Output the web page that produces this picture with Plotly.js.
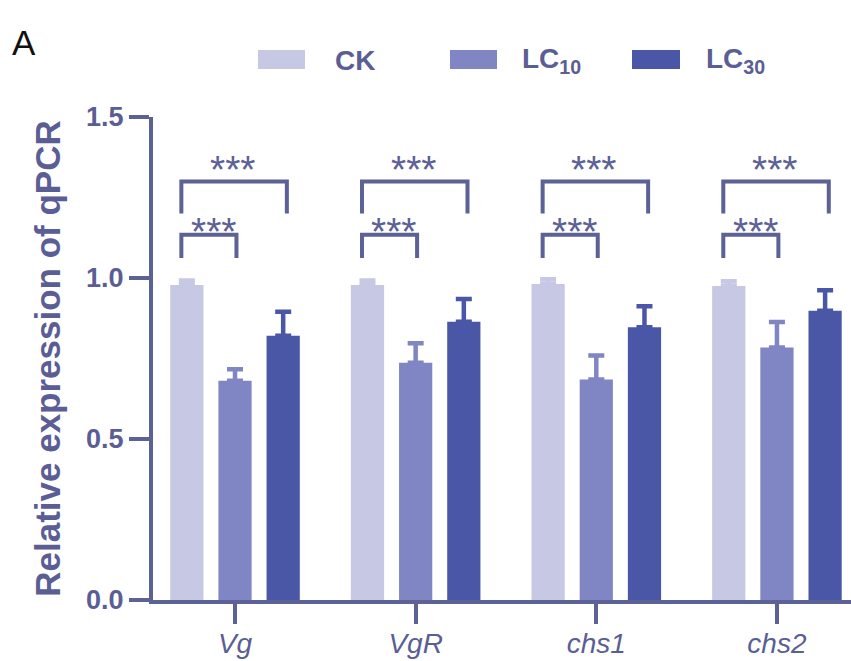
<!DOCTYPE html>
<html>
<head>
<meta charset="utf-8">
<script src="https://cdn.plot.ly/plotly-3.0.1.min.js"></script>
<style>html,body{margin:0;padding:0;background:#fff;}#chart{width:851px;height:661px;}</style>
</head>
<body>
<div id="chart"></div>
<script>
// ---- data ----
const genes = ["Vg", "VgR", "chs1", "chs2"];
const seriesNames = ["CK", "LC10", "LC30"];
const ckValues = [0.978, 0.978, 0.981, 0.975];
const ckErrors = [0.014, 0.014, 0.015, 0.015];
const lc10Values = [0.681, 0.737, 0.685, 0.784];
const lc10Errors = [0.036, 0.060, 0.074, 0.079];
const lc30Values = [0.821, 0.864, 0.847, 0.898];
const lc30Errors = [0.074, 0.071, 0.065, 0.064];
const yTickVals = [0, 0.5, 1.0, 1.5];
const yTickText = ["0.0", "0.5", "1.0", "1.5"];
const sigLabel = "***";

// ---- styles ----
const colors = ["#c7c8e3", "#7f86c3", "#4957a6"];
const axisColor = "#5c6196";
const textColor = "#5a5e94";
const fontFam = "Liberation Sans, Arial, sans-serif";
const W = 851, H = 661, ML = 153, MR = 0, MT = 117, MB = 61;

const values = [ckValues, lc10Values, lc30Values];
const errors = [ckErrors, lc10Errors, lc30Errors];

const traces = seriesNames.map((name, i) => ({
  type: "bar",
  name: name,
  x: genes,
  y: values[i],
  marker: { color: colors[i], line: { width: 0 } },
  error_y: {
    type: "data", symmetric: false,
    array: errors[i], arrayminus: genes.map(() => 0),
    color: colors[i], thickness: 4.5, width: 8
  },
  showlegend: false
}));

// significance brackets (per gene): outer CK vs LC30, inner CK vs LC10
const shapes = [];
const annotations = [];
const bLeft = -0.297, bInnerRight = 0.008, bOuterRight = 0.287;
const outerTop = 1.300, outerBottom = 1.200, innerTop = 1.134, innerBottom = 1.062;
const pw = W - ML - MR, ph = H - MT - MB;
const px = (p) => (p - ML) / pw;
const py = (p) => (H - MB - p) / ph;
const yv = (p) => (H - MB - p) / ph * 1.5;

genes.forEach((g, k) => {
  shapes.push({
    type: "path", xref: "x", yref: "y",
    path: `M ${k + bLeft},${outerBottom} L ${k + bLeft},${outerTop} L ${k + bOuterRight},${outerTop} L ${k + bOuterRight},${outerBottom}`,
    line: { color: axisColor, width: 4 }
  });
  shapes.push({
    type: "path", xref: "x", yref: "y",
    path: `M ${k + bLeft},${innerBottom} L ${k + bLeft},${innerTop} L ${k + bInnerRight},${innerTop} L ${k + bInnerRight},${innerBottom}`,
    line: { color: axisColor, width: 4 }
  });
  annotations.push({
    xref: "x", yref: "y", x: k - 0.01, y: yv(161), text: sigLabel,
    showarrow: false, xanchor: "center", yanchor: "middle", yshift: -8,
    font: { family: fontFam, size: 39, color: axisColor }
  });
  annotations.push({
    xref: "x", yref: "y", x: k - 0.118, y: yv(223), text: sigLabel,
    showarrow: false, xanchor: "center", yanchor: "middle", yshift: -8,
    font: { family: fontFam, size: 39, color: axisColor }
  });
});

// custom legend
const legendItems = [
  { x0: 258, x1: 305, tx: 333, label: "CK" },
  { x0: 450, x1: 497, tx: 520, label: "LC<sub>10</sub>" },
  { x0: 632, x1: 680, tx: 704, label: "LC<sub>30</sub>" }
];
legendItems.forEach((it, i) => {
  shapes.push({
    type: "rect", xref: "paper", yref: "paper",
    x0: px(it.x0), x1: px(it.x1), y0: py(69), y1: py(50),
    fillcolor: colors[i], line: { width: 0 }
  });
  annotations.push({
    xref: "paper", yref: "paper", x: px(it.tx), y: py(60), text: it.label,
    showarrow: false, xanchor: "left", yanchor: "middle",
    font: { family: fontFam, size: 28, color: textColor, weight: "bold" }
  });
});
// panel letter
annotations.push({
  xref: "paper", yref: "paper", x: px(10), y: py(42), text: "A",
  showarrow: false, xanchor: "left", yanchor: "middle",
  font: { family: fontFam, size: 35, color: "#111111" }
});

const layout = {
  width: W, height: H,
  margin: { l: ML, r: MR, t: MT, b: MB, pad: 0 },
  paper_bgcolor: "#ffffff", plot_bgcolor: "#ffffff",
  barmode: "group", bargap: 0.2, bargroupgap: 0.31,
  showlegend: false,
  xaxis: {
    type: "category", range: [-0.454, 3.41],
    showline: true, linecolor: axisColor, linewidth: 4,
    ticks: "outside", ticklen: 20, tickwidth: 4, tickcolor: axisColor,
    ticklabelstandoff: -5,
    tickfont: { family: fontFam, size: 28, color: textColor, style: "italic" },
    showgrid: false, zeroline: false, fixedrange: true
  },
  yaxis: {
    range: [0, 1.5], tickvals: yTickVals, ticktext: yTickText,
    showline: true, linecolor: axisColor, linewidth: 4,
    ticks: "outside", ticklen: 20, tickwidth: 4, tickcolor: axisColor,
    tickfont: { family: fontFam, size: 27, color: textColor, weight: "bold" },
    showgrid: false, zeroline: false,
    title: { text: "Relative expression of qPCR", standoff: 16,
      font: { family: fontFam, size: 35, color: textColor, weight: "bold" } }
  },
  shapes: shapes,
  annotations: annotations
};

Plotly.newPlot("chart", traces, layout, { displayModeBar: false, staticPlot: true });
</script>
</body>
</html>
